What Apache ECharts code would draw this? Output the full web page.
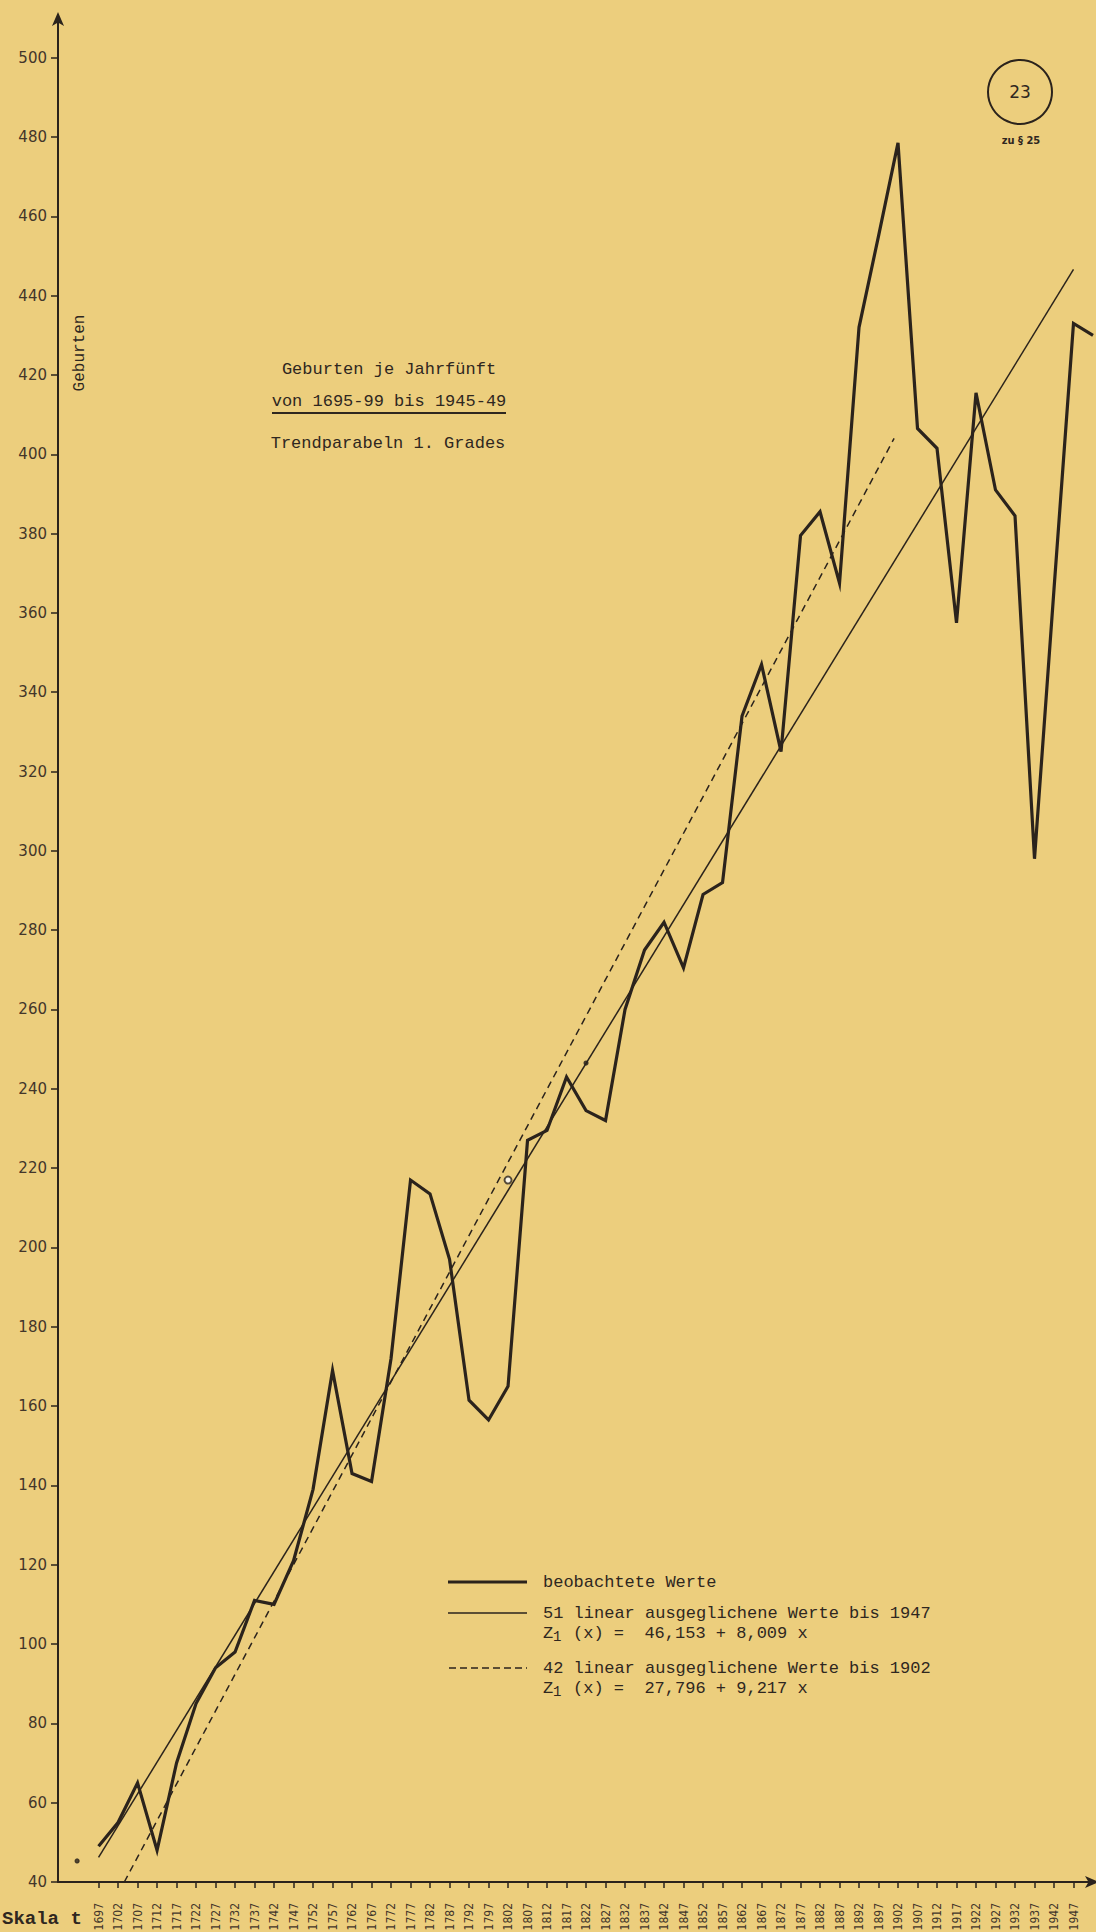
<!DOCTYPE html>
<html>
<head>
<meta charset="utf-8">
<script src="https://cdn.jsdelivr.net/npm/echarts@6/dist/echarts.min.js"></script>
<style>
html,body{margin:0;padding:0;background:#ECCE7D;}
#chart{width:1096px;height:1932px;}
</style>
</head>
<body>
<div id="chart"></div>
<script>
// Skala t tick labels (mid-years of the five-year periods)
const years = [1697,1702,1707,1712,1717,1722,1727,1732,1737,1742,1747,1752,1757,1762,1767,1772,1777,1782,1787,1792,1797,1802,1807,1812,1817,1822,1827,1832,1837,1842,1847,1852,1857,1862,1867,1872,1877,1882,1887,1892,1897,1902,1907,1912,1917,1922,1927,1932,1937,1942,1947];
// observed line runs one step past the last label (cut at the paper edge)
const observedYears = [1697,1702,1707,1712,1717,1722,1727,1732,1737,1742,1747,1752,1757,1762,1767,1772,1777,1782,1787,1792,1797,1802,1807,1812,1817,1822,1827,1832,1837,1842,1847,1852,1857,1862,1867,1872,1877,1882,1887,1892,1897,1902,1907,1912,1917,1922,1927,1932,1937,1942,1947,1952];
// beobachtete Werte (Geburten je Jahrfünft)
const observed = [49,55,65,48,70,85,94,98,111,110,121,139,169,143,141,172,217,213.5,197,161.5,156.5,165,227,229.5,243,234.5,232,260,275,282,270.5,289,292,334,347,325,379.5,385.5,367.5,432,455,478.5,406.5,401.5,357.5,415.5,391,384.5,298,366,433,430];
// 51 linear ausgeglichene Werte bis 1947 (end points)
const trendAll = [[1697,46.2],[1947,446.6]];
// 42 linear ausgeglichene Werte bis 1902 (end points)
const trend1902 = [[1703.6,40],[1901,404]];
// small pencil marks on the sheet
const marks = [[1691.5,45.3],[1802,217],[1822,246.5]];
// y-axis tick labels
const yTicks = [40,60,80,100,120,140,160,180,200,220,240,260,280,300,320,340,360,380,400,420,440,460,480,500];

const ink = '#2b231c';
const textInk = '#2f271f';
const labelInk = '#43362a';
const mono = '"Liberation Mono", "DejaVu Sans Mono", monospace';

const chart = echarts.init(document.getElementById('chart'), null, {renderer:'svg', width:1096, height:1932});

const option = {
  animation:false,
  backgroundColor:'#ECCE7D',
  grid:{left:58, right:3, top:18, bottom:50, containLabel:false, outerBoundsMode:'none'},
  xAxis:{
    type:'value', min:1686.6, max:1952,
    axisLine:{show:true, symbol:['none','arrow'], symbolSize:[9,14], symbolOffset:[0,6], lineStyle:{color:ink, width:2}},
    axisTick:{show:true, customValues:years, length:6, lineStyle:{color:ink, width:1.5}},
    axisLabel:{show:true, customValues:years, rotate:90, margin:21, fontFamily:'"DejaVu Sans Condensed", "DejaVu Sans", sans-serif', fontSize:12, color:labelInk, formatter:v=>String(v)},
    splitLine:{show:false}
  },
  yAxis:{
    type:'value', min:40, max:510,
    axisLine:{show:true, symbol:['none','arrow'], symbolSize:[9,14], symbolOffset:[0,6], lineStyle:{color:ink, width:2}},
    axisTick:{show:true, customValues:yTicks, length:7, lineStyle:{color:ink, width:1.5}},
    axisLabel:{show:true, customValues:yTicks, margin:11, fontFamily:'"DejaVu Sans", sans-serif', fontSize:15, color:labelInk},
    splitLine:{show:false}
  },
  series:[
    {name:'beobachtete Werte', type:'line', data:observedYears.map((y,i)=>[y,observed[i]]), symbol:'none', z:4,
     lineStyle:{color:ink, width:3.2, join:'miter', miterLimit:6}},
    {name:'51 linear ausgeglichene Werte bis 1947', type:'line', data:trendAll, symbol:'none', z:3,
     lineStyle:{color:ink, width:1.5}},
    {name:'42 linear ausgeglichene Werte bis 1902', type:'line', data:trend1902, symbol:'none', z:3, clip:true,
     lineStyle:{color:ink, width:1.5, type:[7,5]}},
    {name:'Markierungen', type:'scatter', data:marks.map((m,i)=> i===1 ? {value:m, symbol:'emptyCircle', symbolSize:7} : {value:m}), symbol:'circle', symbolSize:4, z:5,
     itemStyle:{color:ink, borderColor:ink, borderWidth:1.2}}
  ],
  graphic:[
    // title block
    {type:'text', x:389, y:369, style:{text:'Geburten je Jahrfünft', align:'center', verticalAlign:'middle', font:'17px '+mono, fill:textInk}},
    {type:'text', x:389, y:401, style:{text:'von 1695-99 bis 1945-49', align:'center', verticalAlign:'middle', font:'17px '+mono, fill:textInk}},
    {type:'line', shape:{x1:272, y1:413, x2:506, y2:413}, style:{stroke:textInk, lineWidth:2}},
    {type:'text', x:388, y:443, style:{text:'Trendparabeln 1. Grades', align:'center', verticalAlign:'middle', font:'17px '+mono, fill:textInk}},
    // y axis name
    {type:'text', x:80, y:353, rotation:Math.PI/2, style:{text:'Geburten', align:'center', verticalAlign:'middle', font:'16px '+mono, fill:textInk}},
    // x axis caption
    {type:'text', x:2, y:1919, style:{text:'Skala t', align:'left', verticalAlign:'middle', font:'bold 19px '+mono, fill:textInk}},
    // page number circle
    {type:'circle', shape:{cx:1020, cy:92, r:32}, style:{fill:'none', stroke:ink, lineWidth:2}},
    {type:'text', x:1020, y:92, style:{text:'23', align:'center', verticalAlign:'middle', font:'17px "DejaVu Sans", sans-serif', fill:textInk}},
    {type:'text', x:1021, y:140, style:{text:'zu § 25', align:'center', verticalAlign:'middle', font:'bold 11px "DejaVu Sans Condensed", sans-serif', fill:textInk}},
    // legend
    {type:'line', shape:{x1:448, y1:1582, x2:527, y2:1582}, style:{stroke:ink, lineWidth:3}},
    {type:'text', x:543, y:1582, style:{text:'beobachtete Werte', align:'left', verticalAlign:'middle', font:'17px '+mono, fill:textInk}},
    {type:'line', shape:{x1:448, y1:1613, x2:527, y2:1613}, style:{stroke:ink, lineWidth:1.5}},
    {type:'text', x:543, y:1613, style:{text:'51 linear ausgeglichene Werte bis 1947', align:'left', verticalAlign:'middle', font:'17px '+mono, fill:textInk}},
    {type:'text', x:543, y:1633, style:{text:'Z', align:'left', verticalAlign:'middle', font:'17px '+mono, fill:textInk}},
    {type:'text', x:553, y:1637, style:{text:'1', align:'left', verticalAlign:'middle', font:'14px '+mono, fill:textInk}},
    {type:'text', x:573, y:1633, style:{text:'(x) =  46,153 + 8,009 x', align:'left', verticalAlign:'middle', font:'17px '+mono, fill:textInk}},
    {type:'line', shape:{x1:449, y1:1668, x2:527, y2:1668}, style:{stroke:ink, lineWidth:1.5, lineDash:[7,4]}},
    {type:'text', x:543, y:1668, style:{text:'42 linear ausgeglichene Werte bis 1902', align:'left', verticalAlign:'middle', font:'17px '+mono, fill:textInk}},
    {type:'text', x:543, y:1688, style:{text:'Z', align:'left', verticalAlign:'middle', font:'17px '+mono, fill:textInk}},
    {type:'text', x:553, y:1692, style:{text:'1', align:'left', verticalAlign:'middle', font:'14px '+mono, fill:textInk}},
    {type:'text', x:573, y:1688, style:{text:'(x) =  27,796 + 9,217 x', align:'left', verticalAlign:'middle', font:'17px '+mono, fill:textInk}}
  ]
};
chart.setOption(option);
</script>
</body>
</html>
